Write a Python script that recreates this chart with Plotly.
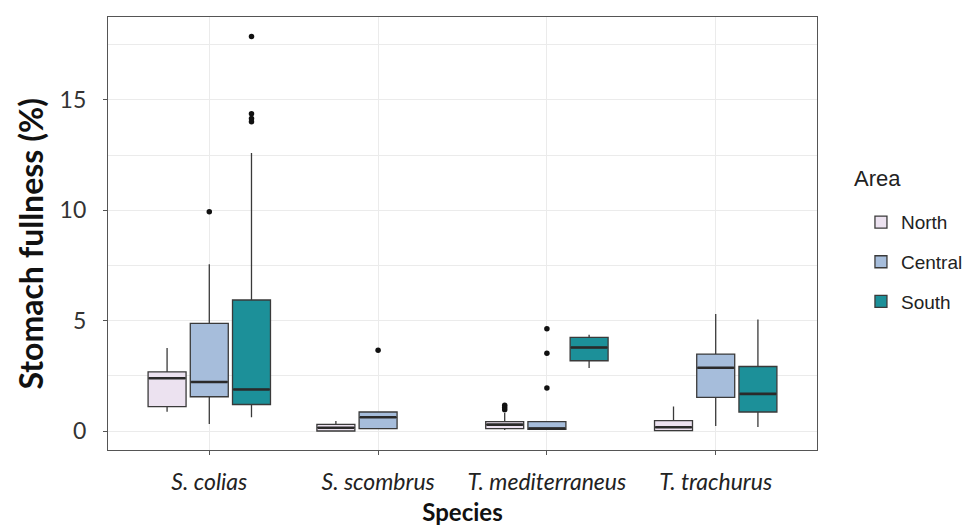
import plotly.graph_objects as go

# Species on the x axis
species = ["S. colias", "S. scombrus", "T. mediterraneus", "T. trachurus"]
areas = ["North", "Central", "South"]
colors = {"North": "#ECE2F0", "Central": "#A6BDDB", "South": "#1C9099"}

# Box statistics (stomach fullness, %) per area, in species order
north_q1 = [1.11, 0.01, 0.12, 0.03]
north_med = [2.40, 0.16, 0.30, 0.18]
north_q3 = [2.69, 0.31, 0.43, 0.48]
north_lo = [0.88, 0.00, 0.05, 0.00]
north_hi = [3.77, 0.46, 0.82, 1.12]

central_q1 = [1.56, 0.12, 0.09, 1.53]
central_med = [2.23, 0.63, 0.12, 2.87]
central_q3 = [4.88, 0.87, 0.43, 3.49]
central_lo = [0.33, 0.12, 0.09, 0.24]
central_hi = [7.56, 0.87, 0.43, 5.31]

south_q1 = [1.21, None, 3.19, 0.87]
south_med = [1.89, None, 3.79, 1.69]
south_q3 = [5.94, None, 4.25, 2.93]
south_lo = [0.63, None, 2.86, 0.19]
south_hi = [12.59, None, 4.37, 5.06]

# Outlying observations
north_out_species = ["T. mediterraneus", "T. mediterraneus", "T. mediterraneus"]
north_out_values = [1.17, 1.07, 0.97]
central_out_species = ["S. colias", "S. scombrus", "T. mediterraneus", "T. mediterraneus", "T. mediterraneus"]
central_out_values = [9.93, 3.67, 4.64, 3.53, 1.96]
south_out_species = ["S. colias", "S. colias", "S. colias", "S. colias"]
south_out_values = [17.87, 14.37, 14.15, 14.01]

stats = {
    "North": (north_q1, north_med, north_q3, north_lo, north_hi),
    "Central": (central_q1, central_med, central_q3, central_lo, central_hi),
    "South": (south_q1, south_med, south_q3, south_lo, south_hi),
}
outliers = {
    "North": (north_out_species, north_out_values),
    "Central": (central_out_species, central_out_values),
    "South": (south_out_species, south_out_values),
}

edge = "#3a3a3a"
fig = go.Figure()
for area in areas:
    q1, med, q3, lo, hi = stats[area]
    keep = [i for i, v in enumerate(med) if v is not None]
    fig.add_trace(go.Box(
        name=area,
        x=[species[i] for i in keep],
        q1=[q1[i] for i in keep],
        median=[med[i] for i in keep],
        q3=[q3[i] for i in keep],
        lowerfence=[lo[i] for i in keep],
        upperfence=[hi[i] for i in keep],
        fillcolor=colors[area],
        line=dict(color=edge, width=1.3),
        whiskerwidth=0,
        boxpoints=False,
        offsetgroup=area,
        legendgroup=area,
        hoverinfo="skip",
    ))

# Thicker median bars, drawn over the boxes
for area in areas:
    med = stats[area][1]
    keep = [i for i, v in enumerate(med) if v is not None]
    fig.add_trace(go.Scatter(
        x=[species[i] for i in keep], y=[med[i] for i in keep], mode="markers",
        marker=dict(symbol="line-ew", size=26, line=dict(color="#2a2a2a", width=2.6)),
        offsetgroup=area, showlegend=False, hoverinfo="skip",
    ))

for area in areas:
    xs, ys = outliers[area]
    fig.add_trace(go.Scatter(
        x=xs, y=ys, mode="markers",
        marker=dict(color="#111111", size=5.5),
        offsetgroup=area,
        showlegend=False,
        hoverinfo="skip",
    ))

axis_line = "#555555"
grid = "#ebebeb"
fig.update_layout(
    width=968, height=526,
    margin=dict(l=108, r=151, t=17, b=76, autoexpand=False),
    paper_bgcolor="white",
    plot_bgcolor="white",
    boxmode="group",
    boxgap=0.25,
    boxgroupgap=0.1,
    scattermode="group",
    scattergap=0.25,
    font=dict(family="Lato", color="#333333"),
    legend=dict(
        font=dict(family="Liberation Sans", size=19, color="#222222"),
        x=1.062, xanchor="left", y=0.57, yanchor="top",
        tracegroupgap=12,
        bgcolor="rgba(0,0,0,0)",
    ),
    annotations=[
        dict(
            text="Area", xref="paper", yref="paper", x=1.050, y=0.594,
            xanchor="left", yanchor="bottom", showarrow=False,
            font=dict(family="Liberation Sans", size=22, color="#222222"),
        ),
        dict(
            text="<b>Stomach fullness (%)</b>", xref="paper", yref="paper",
            x=-0.109, y=0.476, xanchor="center", yanchor="middle",
            textangle=-90, showarrow=False,
            font=dict(family="Lato", size=32, color="#111111"),
        ),
    ],
    xaxis=dict(
        categoryorder="array", categoryarray=species,
        range=[-0.6, 3.6],
        automargin=False,
        showgrid=True, gridcolor=grid, gridwidth=1,
        ticks="outside", ticklen=4, tickcolor=axis_line,
        ticklabelstandoff=7,
        tickfont=dict(family="Lato", size=23, style="italic", color="#222222"),
        showline=True, linecolor=axis_line, linewidth=1.3, mirror=True,
        title=dict(text="<b>Species</b>", font=dict(family="Lato", size=24, color="#111111"), standoff=14),
    ),
    yaxis=dict(
        range=[-0.85, 18.75],
        tickvals=[0, 5, 10, 15],
        automargin=False,
        showgrid=True, gridcolor=grid, gridwidth=1,
        minor=dict(dtick=2.5, tick0=0, showgrid=True, gridcolor=grid, gridwidth=1),
        zeroline=False,
        ticks="outside", ticklen=4, tickcolor=axis_line,
        ticklabelstandoff=12,
        tickfont=dict(family="Lato", size=23, color="#333333"),
        showline=True, linecolor=axis_line, linewidth=1.3, mirror=True,
    ),
)

fig.write_html("out.html")
